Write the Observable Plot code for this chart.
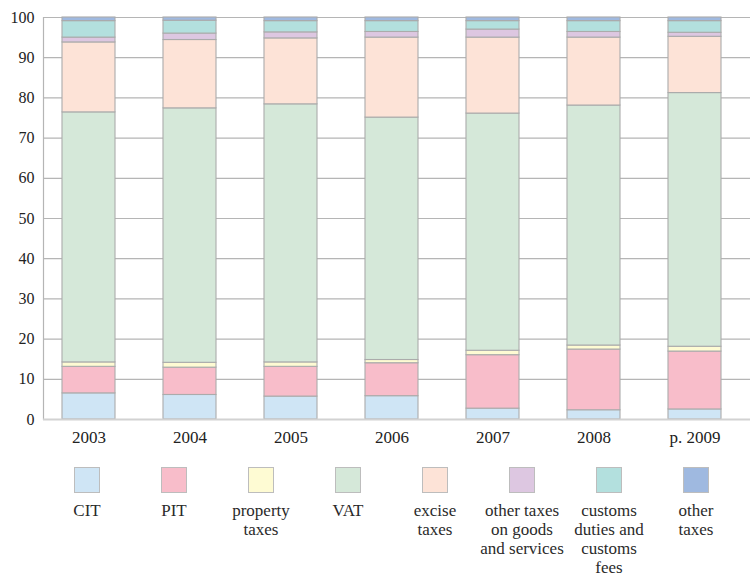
<!DOCTYPE html>
<html>
<head>
<meta charset="utf-8">
<script src="https://cdn.jsdelivr.net/npm/d3@7"></script>
<script src="https://cdn.jsdelivr.net/npm/@observablehq/plot@0.6"></script>
<style>
  html, body { margin: 0; padding: 0; background: #fff; }
  body { width: 750px; height: 578px; font-family: 'Liberation Serif', 'DejaVu Serif', 'Times New Roman', serif; }
  #chart svg { display: block; }
  #chart svg text { font-family: 'Liberation Serif', 'DejaVu Serif', 'Times New Roman', serif; }
  .legend { display: flex; margin-left: 43.5px; margin-top: 17px; }
  .item { width: 87px; display: flex; flex-direction: column; align-items: center; }
  .sw { width: 24px; height: 24px; border: 1.5px solid #bdbdbd; }
  .lab { margin-top: 8px; font-size: 17px; line-height: 19px; text-align: center; color: #2a2a2a; }
</style>
</head>
<body>
<div id="chart"></div>
<div class="legend" id="legend"></div>
<script>
const years = ["2003", "2004", "2005", "2006", "2007", "2008", "p. 2009"];
const categories = ["CIT", "PIT", "property taxes", "VAT", "excise taxes",
  "other taxes on goods and services", "customs duties and customs fees", "other taxes"];
const legendLabels = ["CIT", "PIT", "property<br>taxes", "VAT", "excise<br>taxes",
  "other taxes<br>on goods<br>and services", "customs<br>duties and<br>customs<br>fees", "other<br>taxes"];
const colors = ["#cfe5f5", "#f8bdca", "#fefbd3", "#d5e8d9", "#fde3d7", "#ddc7e1", "#b3e0de", "#9fb9e0"];

const CIT        = [6.5, 6.1, 5.7, 5.8, 2.7, 2.3, 2.5];
const PIT        = [6.6, 6.8, 7.4, 8.2, 13.3, 15.1, 14.4];
const property   = [1.1, 1.2, 1.1, 0.8, 1.1, 1.0, 1.2];
const VAT        = [62.2, 63.3, 64.2, 60.3, 59.0, 59.7, 63.1];
const excise     = [17.4, 17.0, 16.4, 19.9, 18.9, 16.9, 14.0];
const otherGoods = [1.2, 1.6, 1.5, 1.4, 2.0, 1.4, 1.0];
const customs    = [4.1, 3.2, 2.8, 2.7, 2.1, 2.7, 2.9];
const otherTaxes = [0.9, 0.8, 0.9, 0.9, 0.9, 0.9, 0.9];

const yTicks = [0, 10, 20, 30, 40, 50, 60, 70, 80, 90, 100];

const series = [CIT, PIT, property, VAT, excise, otherGoods, customs, otherTaxes];
const data = [];
years.forEach((y, i) => {
  categories.forEach((c, j) => data.push({year: y, category: c, value: series[j][i]}));
});

const chart = Plot.plot({
  width: 750,
  height: 450,
  marginLeft: 43,
  marginRight: 0,
  marginTop: 17,
  marginBottom: 31,
  style: {fontFamily: "'Liberation Serif', 'DejaVu Serif', serif", color: "#222", background: "#fff"},
  x: {domain: years, range: [38, 745.7], paddingInner: 0.476, paddingOuter: 0.238, label: null},
  y: {domain: [0, 100], label: null},
  color: {domain: categories, range: colors},
  marks: [
    Plot.ruleY(yTicks.filter(d => d > 0), {stroke: "#b5b5b5", strokeWidth: 1.2}),
    Plot.frame({anchor: "left", stroke: "#b5b5b5", strokeWidth: 1.2}),
    Plot.barY(data, {x: "year", y: "value", fill: "category", stroke: "#ababab", strokeWidth: 1.1}),
    Plot.ruleY([0], {stroke: "#d2d2d2", strokeWidth: 2}),
    Plot.axisY({ticks: yTicks, tickSize: 0, tickPadding: 9, fontSize: 16, label: null}),
    Plot.axisX({tickSize: 0, tickPadding: 11, fontSize: 17, label: null})
  ]
});
document.getElementById("chart").appendChild(chart);

const leg = document.getElementById("legend");
categories.forEach((c, i) => {
  const it = document.createElement("div");
  it.className = "item";
  it.innerHTML = `<div class="sw" style="background:${colors[i]}"></div><div class="lab">${legendLabels[i]}</div>`;
  leg.appendChild(it);
});
</script>
</body>
</html>
